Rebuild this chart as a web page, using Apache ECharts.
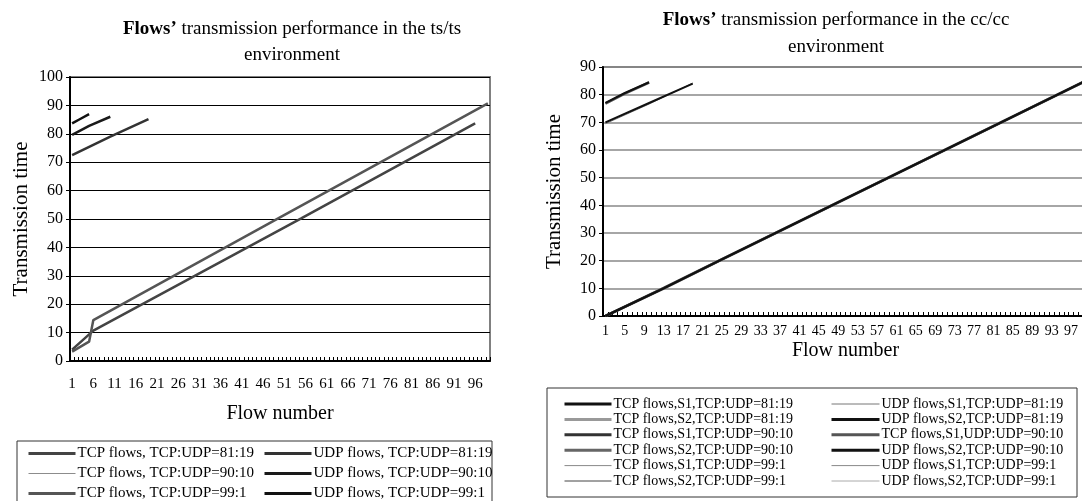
<!DOCTYPE html>
<html>
<head>
<meta charset="utf-8">
<script src="https://cdn.jsdelivr.net/npm/echarts@6/dist/echarts.min.js"></script>
<style>
  html, body { margin: 0; padding: 0; background: #fff; overflow: hidden; }
  #main { width: 1100px; height: 501px; }
</style>
</head>
<body>
<div id="main"></div>
<script>
// flow numbers on the two category axes
const tsFlows = Array.from({ length: 99 }, (_, i) => String(i + 1));
const ccFlows = Array.from({ length: 100 }, (_, i) => String(i + 1));

// ts/ts environment (flow number -> transmission time)
const tsTcp8119Flow = [1, 6, 55, 96];
const tsTcp8119 = [4.0, 10.7, 50.2, 83.7];
const tsTcp9010Flow = [1, 6, 55, 96];
const tsTcp9010 = [3.8, 10.6, 50.1, 83.6];
const tsTcp991Flow = [1, 5, 6, 50, 99];
const tsTcp991 = [3.3, 6.8, 14.4, 50.6, 90.7];
const tsUdp8119Flow = [1, 10, 19];
const tsUdp8119 = [72.5, 79.0, 85.2];
const tsUdp9010Flow = [1, 5, 10];
const tsUdp9010 = [79.6, 82.8, 86.0];
const tsUdp991Flow = [1, 3, 5];
const tsUdp991 = [83.7, 85.3, 86.9];

// cc/cc environment
const ccTcpFlow = [1, 13, 25, 50, 75, 100];
const ccTcpS1_8119 = [0, 10, 20.5, 42, 63.5, 85];
const ccTcpS2_8119 = [0, 10.2, 20.6, 42.1, 63.6, 85.1];
const ccTcpS1_9010 = [0, 10.1, 20.5, 42, 63.4, 85];
const ccTcpS2_9010 = [0, 9.9, 20.4, 41.9, 63.5, 84.9];
const ccTcpS1_991 = [0, 10, 20.6, 42, 63.5, 85];
const ccTcpS2_991 = [0, 10.1, 20.5, 42.1, 63.5, 85];
const ccUdp8119Flow = [1, 10, 19];
const ccUdpS1_8119 = [69.5, 76.6, 84.2];
const ccUdpS2_8119 = [70.0, 77.0, 84.0];
const ccUdp9010Flow = [1, 5, 10];
const ccUdpS1_9010 = [76.8, 80.4, 84.4];
const ccUdpS2_9010 = [77.0, 80.6, 84.5];
const ccUdp991Flow = [1];
const ccUdpS1_991 = [84.0];
const ccUdpS2_991 = [84.0];

const FONT = 'Liberation Serif';

const pairs = (flows, vals) => flows.map((f, i) => [f - 1, vals[i]]);

const line = (name, idx, flows, vals, color, width) => ({
    name: name,
    type: 'line',
    xAxisIndex: idx,
    yAxisIndex: idx,
    data: pairs(flows, vals),
    symbol: 'none',
    silent: true,
    lineStyle: { color: color, width: width },
    itemStyle: { color: color }
});

const xAxis = (idx, cats, interval, nameGap, margin, fontSize) => ({
    type: 'category',
    gridIndex: idx,
    data: cats,
    boundaryGap: true,
    name: 'Flow number',
    nameLocation: 'middle',
    nameGap: nameGap,
    nameTextStyle: { fontFamily: FONT, fontSize: 20, color: '#000' },
    axisLine: { lineStyle: { color: '#000', width: 2 } },
    axisTick: { show: true, inside: true, interval: 0, length: 4, lineStyle: { color: '#000' } },
    axisLabel: { interval: interval, margin: margin, fontFamily: FONT, fontSize: fontSize, color: '#000' },
    splitLine: { show: false }
});

const yAxis = (idx, max, gridColor, gridWidth) => ({
    type: 'value',
    gridIndex: idx,
    min: 0,
    max: max,
    interval: 10,
    name: 'Transmission time',
    nameLocation: 'middle',
    nameGap: 38,
    nameTextStyle: { fontFamily: FONT, fontSize: 21, color: '#000' },
    axisLine: { show: true, lineStyle: { color: '#000', width: 2 } },
    axisTick: { show: true, length: 4, lineStyle: { color: '#000' } },
    axisLabel: { margin: 7, fontFamily: FONT, fontSize: 16, color: '#000' },
    splitLine: { show: true, lineStyle: { color: gridColor, width: gridWidth } }
});

// legend column; widths = line thickness of each sample
const legendCol = (left, top, gap, width, names, widths, fontSize) => ({
    orient: 'vertical',
    left: left,
    top: top,
    itemWidth: width,
    itemHeight: 14,
    itemGap: gap,
    padding: 0,
    selectedMode: false,
    data: names.map((n, i) => ({ name: n, lineStyle: { width: widths[i] } })),
    itemStyle: { color: 'rgba(0,0,0,0)', borderColor: 'rgba(0,0,0,0)', borderWidth: 0 },
    textStyle: { fontFamily: FONT, fontSize: fontSize, color: '#000', padding: [0, 0, 0, -3] }
});

const chart = echarts.init(document.getElementById('main'));
chart.setOption({
    animation: false,
    backgroundColor: '#fff',
    title: [
        {
            text: '{b|Flows’} transmission performance in the ts/ts\nenvironment',
            left: 287, top: 11, textAlign: 'center',
            textStyle: {
                fontFamily: FONT, fontSize: 19, fontWeight: 'normal', color: '#000', lineHeight: 26,
                rich: { b: { fontFamily: FONT, fontSize: 19, fontWeight: 'bold', color: '#000' } }
            }
        },
        {
            text: '{b|Flows’} transmission performance in the cc/cc\nenvironment',
            left: 831, top: 2, textAlign: 'center',
            textStyle: {
                fontFamily: FONT, fontSize: 19, fontWeight: 'normal', color: '#000', lineHeight: 27,
                rich: { b: { fontFamily: FONT, fontSize: 19, fontWeight: 'bold', color: '#000' } }
            }
        }
    ],
    grid: [
        { left: 70, top: 77, width: 420, height: 284, show: true, borderColor: '#808080', borderWidth: 2, containLabel: false },
        { left: 603, top: 67, width: 485, height: 249, show: true, borderColor: '#808080', borderWidth: 2, containLabel: false }
    ],
    xAxis: [
        xAxis(0, tsFlows, 4, 43, 16, 15),
        xAxis(1, ccFlows, 3, 25, 8, 14)
    ],
    yAxis: [
        yAxis(0, 100, '#000', 1),
        yAxis(1, 90, '#888', 1.5)
    ],
    legend: [
        legendCol(27, 446, 5, 47, ['TCP flows, TCP:UDP=81:19', 'TCP flows, TCP:UDP=90:10', 'TCP flows, TCP:UDP=99:1'],
            [3, 1, 3], 15),
        legendCol(263, 446, 5, 47, ['UDP flows, TCP:UDP=81:19', 'UDP flows, TCP:UDP=90:10', 'UDP flows, TCP:UDP=99:1'],
            [3, 3, 3], 15),
        legendCol(563, 397, 1.4, 47, ['TCP flows,S1,TCP:UDP=81:19', 'TCP flows,S2,TCP:UDP=81:19', 'TCP flows,S1,TCP:UDP=90:10',
            'TCP flows,S2,TCP:UDP=90:10', 'TCP flows,S1,TCP:UDP=99:1', 'TCP flows,S2,TCP:UDP=99:1'],
            [3, 3, 3, 3, 1, 1], 14),
        legendCol(830, 397, 1.4, 48, ['UDP flows,S1,TCP:UDP=81:19', 'UDP flows,S2,TCP:UDP=81:19', 'TCP flows,S1,UDP:UDP=90:10',
            'UDP flows,S2,TCP:UDP=90:10', 'UDP flows,S1,TCP:UDP=99:1', 'UDP flows,S2,TCP:UDP=99:1'],
            [1, 3, 3, 3, 1, 1], 14)
    ],
    graphic: [
        { type: 'rect', shape: { x: 17, y: 441, width: 475, height: 80 }, style: { fill: 'none', stroke: '#333', lineWidth: 1 } },
        { type: 'rect', shape: { x: 547, y: 388, width: 530, height: 109 }, style: { fill: 'none', stroke: '#333', lineWidth: 1 } }
    ],
    series: [
        // ts/ts
        line('TCP flows, TCP:UDP=90:10', 0, tsTcp9010Flow, tsTcp9010, '#8c8c8c', 1),
        line('TCP flows, TCP:UDP=81:19', 0, tsTcp8119Flow, tsTcp8119, '#444', 2.5),
        line('TCP flows, TCP:UDP=99:1', 0, tsTcp991Flow, tsTcp991, '#555', 2.5),
        line('UDP flows, TCP:UDP=81:19', 0, tsUdp8119Flow, tsUdp8119, '#333', 2.5),
        line('UDP flows, TCP:UDP=90:10', 0, tsUdp9010Flow, tsUdp9010, '#1a1a1a', 2.5),
        line('UDP flows, TCP:UDP=99:1', 0, tsUdp991Flow, tsUdp991, '#111', 2.5),
        // cc/cc
        line('TCP flows,S2,TCP:UDP=81:19', 1, ccTcpFlow, ccTcpS2_8119, '#999', 2.5),
        line('TCP flows,S2,TCP:UDP=90:10', 1, ccTcpFlow, ccTcpS2_9010, '#666', 2.5),
        line('TCP flows,S1,TCP:UDP=99:1', 1, ccTcpFlow, ccTcpS1_991, '#888', 1),
        line('TCP flows,S2,TCP:UDP=99:1', 1, ccTcpFlow, ccTcpS2_991, '#444', 1),
        line('TCP flows,S1,TCP:UDP=90:10', 1, ccTcpFlow, ccTcpS1_9010, '#333', 2.5),
        line('TCP flows,S1,TCP:UDP=81:19', 1, ccTcpFlow, ccTcpS1_8119, '#111', 2),
        line('UDP flows,S1,TCP:UDP=81:19', 1, ccUdp8119Flow, ccUdpS1_8119, '#777', 1),
        line('UDP flows,S2,TCP:UDP=81:19', 1, ccUdp8119Flow, ccUdpS2_8119, '#111', 2),
        line('TCP flows,S1,UDP:UDP=90:10', 1, ccUdp9010Flow, ccUdpS1_9010, '#555', 2.5),
        line('UDP flows,S2,TCP:UDP=90:10', 1, ccUdp9010Flow, ccUdpS2_9010, '#111', 2),
        line('UDP flows,S1,TCP:UDP=99:1', 1, ccUdp991Flow, ccUdpS1_991, '#888', 1),
        line('UDP flows,S2,TCP:UDP=99:1', 1, ccUdp991Flow, ccUdpS2_991, '#aaa', 1)
    ]
});
</script>
</body>
</html>
